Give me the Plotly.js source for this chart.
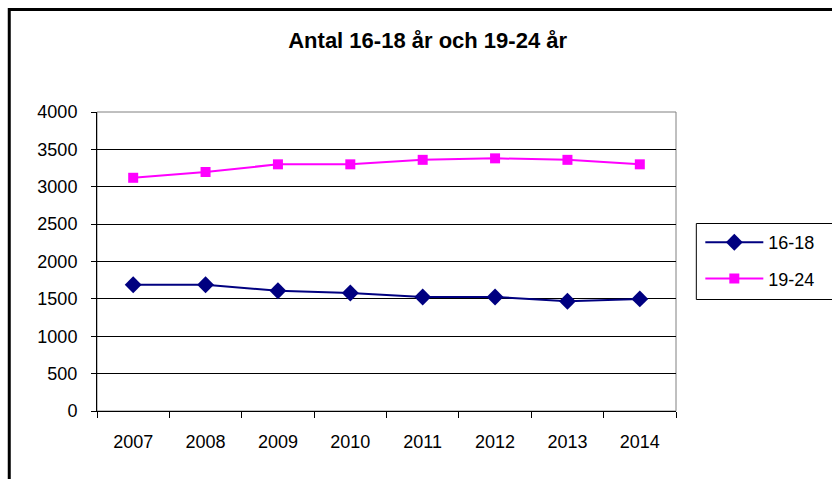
<!DOCTYPE html>
<html>
<head>
<meta charset="utf-8">
<script src="https://cdn.plot.ly/plotly-3.0.1.min.js"></script>
<style>
  html, body { margin: 0; padding: 0; background: #ffffff; }
  #chart { width: 832px; height: 479px; }
</style>
</head>
<body>
<div id="chart"></div>
<script>
const years = ["2007", "2008", "2009", "2010", "2011", "2012", "2013", "2014"];
const age16to18 = [1688, 1688, 1609, 1579, 1526, 1526, 1468, 1500];
const age19to24 = [3120, 3197, 3300, 3300, 3360, 3380, 3360, 3300];
const seriesNames = ["16-18", "19-24"];
const chartTitle = "Antal 16-18 år och 19-24 år";

const FONT = "Liberation Sans, Arial, sans-serif";

const traces = [
  {
    x: years, y: age16to18, name: seriesNames[0], type: "scatter", mode: "lines+markers",
    legendgroup: "a",
    line: { color: "#000080", width: 2 },
    marker: { symbol: "diamond", size: 13, color: "#000080" }
  },
  {
    x: years, y: age19to24, name: seriesNames[1], type: "scatter", mode: "lines+markers",
    legendgroup: "b",
    line: { color: "#FF00FF", width: 2 },
    marker: { symbol: "square", size: 10, color: "#FF00FF" }
  }
];

const PW = 584, PH = 299, PL = 97, PB = 411;
const px = v => (v - PL) / PW;
const py = v => (PB - v) / PH;

const layout = {
  width: 832, height: 479,
  margin: { l: 97, r: 151, t: 112, b: 68, pad: 0 },
  paper_bgcolor: "#ffffff", plot_bgcolor: "#ffffff",
  font: { family: FONT, size: 18, color: "#000000" },
  title: {
    text: "<b>" + chartTitle + "</b>",
    font: { family: FONT, size: 22, color: "#000000" },
    xref: "container", x: 0.514, xanchor: "center",
    yref: "container", y: 0.916, yanchor: "middle"
  },
  xaxis: {
    type: "category", range: [-0.5, 7.5],
    tickson: "boundaries", ticks: "outside", ticklen: 6, tickcolor: "#000000", tickwidth: 1,
    showline: true, linecolor: "#000000", linewidth: 1,
    showgrid: false, zeroline: false,
    ticklabelstandoff: 14,
    tickfont: { family: FONT, size: 18, color: "#000000" }
  },
  yaxis: {
    range: [0, 4000], dtick: 500, tick0: 0,
    ticks: "outside", ticklen: 5, tickcolor: "#000000", tickwidth: 1,
    showline: true, linecolor: "#000000", linewidth: 1,
    showgrid: true, gridcolor: "#000000", gridwidth: 1,
    zeroline: false,
    ticklabelstandoff: 10,
    tickfont: { family: FONT, size: 18, color: "#000000" }
  },
  showlegend: true,
  legend: {
    x: 1.042, xanchor: "left", y: py(224), yanchor: "top",
    borderwidth: 0, bgcolor: "rgba(0,0,0,0)",
    font: { family: FONT, size: 18, color: "#000000" },
    traceorder: "grouped", tracegroupgap: 10,
    itemwidth: 58
  },
  shapes: [
    { type: "rect", xref: "paper", yref: "paper", x0: 0, x1: 1, y0: 0, y1: 1,
      line: { color: "#808080", width: 1 }, layer: "below" },
    { type: "rect", xref: "paper", yref: "paper",
      x0: px(8.5), x1: px(845), y0: py(495), y1: py(9.5),
      line: { color: "#000000", width: 3 }, layer: "below" },
    { type: "rect", xref: "paper", yref: "paper",
      x0: px(701.5), x1: px(845), y0: py(299.5), y1: py(223.5),
      line: { color: "#000000", width: 1 }, layer: "below" }
  ]
};

Plotly.newPlot("chart", traces, layout, { displayModeBar: false, staticPlot: true });
</script>
</body>
</html>
